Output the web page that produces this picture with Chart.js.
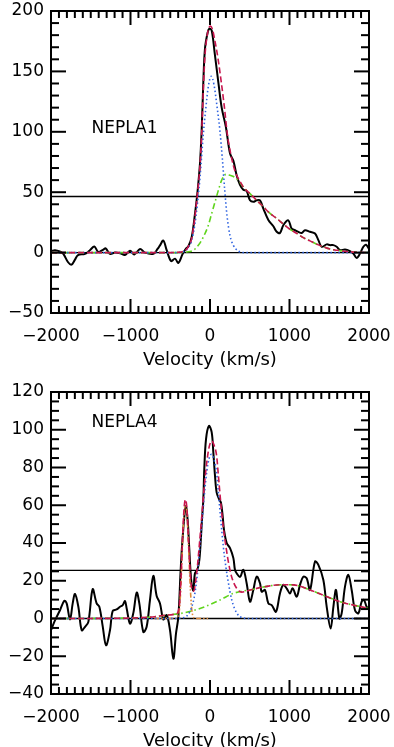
<!DOCTYPE html>
<html>
<head>
<meta charset="utf-8">
<script src="https://cdn.jsdelivr.net/npm/chart.js@4"></script>
<style>
  html, body { margin: 0; padding: 0; background: #fff; overflow: hidden; width: 394px; height: 747px; }
  canvas { position: absolute; left: 0; }
  #topChart { top: 0; }
  #bottomChart { top: 373px; }
</style>
</head>
<body>
<canvas id="topChart" width="394" height="373"></canvas>
<canvas id="bottomChart" width="394" height="381"></canvas>
<script>
// shared axis ticks
const velTicks = [-2000, -1000, 0, 1000, 2000];
const topYTicks = [-50, 0, 50, 100, 150, 200];
const bottomYTicks = [-40, -20, 0, 20, 40, 60, 80, 100, 120];

// NEPLA1 (top panel)
const n1SpecVel = [-2000, -1990, -1950, -1890, -1845, -1785, -1742, -1700, -1660, -1572, -1510, -1455, -1405, -1342, -1313, -1258, -1195, -1130, -1070, -1006, -952, -880, -818, -713, -660, -629, -587, -545, -490, -440, -398, -343, -300, -273, -230, -189, -159, -126, -105, -84, -63, -30, -8, 21, 63, 105, 147, 200, 252, 294, 335, 377, 419, 461, 503, 545, 587, 629, 671, 734, 797, 839, 880, 922, 985, 1027, 1069, 1111, 1153, 1195, 1258, 1321, 1363, 1405, 1468, 1510, 1552, 1594, 1636, 1698, 1761, 1803, 1845, 1887, 1929, 1962, 2000];
const n1SpecFlux = [1, 1.4, 2, 1, -1, -8, -10, -6, -2, -1, 2, 5, 0.5, 2.5, 3.5, -1, 0, -0.5, -2, 1.5, -1.5, 3, 0, -1, 3, 6, 10, 2, -7, -5, -8.5, -1, 3.5, 5, 13, 32, 49, 74, 101, 141, 169, 182, 185.5, 184, 163, 141, 120, 104, 82, 76, 64, 56, 52, 51, 43.3, 42, 43.3, 43.3, 36.4, 27, 21.8, 17.2, 16.2, 22.6, 26.7, 19.8, 18.5, 17.2, 16.3, 18.5, 17.2, 15.8, 10.3, 4.8, 6.8, 6.2, 6.2, 4.8, 2, 2.6, 1.2, -0.8, -4.5, -0.8, 4.8, 6.5, 3];

const n1TotalVel = [-2000, -1000, -500, -400, -340, -300, -273, -230, -189, -159, -126, -105, -84, -63, -40, -15, 8, 30, 60, 100, 140, 180, 220, 260, 294, 335, 377, 419, 503, 587, 671, 755, 839, 922, 1006, 1090, 1174, 1258, 1342, 1426, 1510, 1594, 1719, 1850, 2000];
const n1TotalFlux = [0, 0, 0, 0.3, 1, 2.5, 5, 12, 30, 48, 72, 98, 135, 163, 178, 186, 187.5, 185, 176, 161, 142, 121, 97, 82, 72, 64, 59, 54.3, 48.8, 43.3, 37.9, 32.4, 28.3, 23.7, 19.3, 16, 12.4, 9.7, 7, 4.8, 2.9, 2, 0.9, 0.3, 0];

const n1NarrowVel = [-2000, -420, -340, -273, -230, -189, -159, -126, -84, -55, -20, 15, 50, 92, 126, 155, 185, 215, 252, 294, 356, 420, 2000];
const n1NarrowFlux = [0, 0, 0.5, 4, 10, 24, 40, 62, 98, 118, 138, 146, 139, 119, 100, 78, 52, 30, 14, 6, 1.3, 0, 0];

const n1BroadVel = [-2000, -400, -294, -210, -147, -84, -21, 21, 63, 105, 147, 201, 252, 294, 335, 377, 419, 503, 587, 671, 755, 839, 922, 1006, 1090, 1174, 1258, 1342, 1426, 1510, 1594, 1719, 1850, 2000];
const n1BroadFlux = [0, 0, 0.5, 1.9, 6, 12.9, 22.6, 32.3, 41.9, 51.5, 60, 64.8, 64, 63, 61, 58, 54.3, 48.8, 43.3, 37.9, 32.4, 28.3, 23.7, 19.3, 16, 12.4, 9.7, 7, 4.8, 2.9, 2, 0.9, 0.3, 0];

const n1Level = 46.5;

// NEPLA4 (bottom panel)
const n4SpecVel = [-2000, -1950, -1887, -1832, -1803, -1761, -1727, -1698, -1656, -1614, -1572, -1530, -1476, -1426, -1392, -1350, -1308, -1258, -1224, -1174, -1132, -1098, -1069, -1048, -1006, -964, -922, -889, -839, -797, -755, -713, -671, -629, -587, -545, -503, -461, -428, -398, -369, -343, -305, -281, -262, -245, -230, -210, -189, -159, -134, -113, -101, -84, -72, -50, -13, 21, 42, 63, 84, 117, 138, 160, 176, 210, 252, 294, 314, 335, 377, 419, 461, 503, 545, 587, 629, 650, 692, 734, 776, 830, 880, 922, 964, 1006, 1040, 1090, 1132, 1174, 1216, 1258, 1321, 1363, 1426, 1468, 1518, 1552, 1585, 1627, 1656, 1698, 1740, 1782, 1824, 1866, 1908, 1937, 1971, 2000];
const n4SpecFlux = [-6.2, -1, 4.4, 9.4, 8, -0.5, 8, 13, 6.2, -6.2, -4.4, -1.8, 15.5, 8, 6.2, -4, -14.2, -6.2, 4, 4.8, 6.2, 7.1, 9.2, 5.3, -2.7, 3, 13.7, 8, -7.1, -4.4, 9.8, 22.6, 11.9, 8, -0.5, 1.8, -6.2, -21.3, -8, 1, 25.8, 43.5, 59.5, 52, 38, 25, 18, 15, 24, 25.8, 31, 43.5, 52.4, 63, 79, 95, 102, 98.7, 88, 75.5, 66.7, 63, 61.3, 54, 47, 40, 37.3, 32, 25.8, 24, 22, 25.8, 18.7, 8.9, 15.1, 22.2, 18.7, 14.2, 15.1, 8, 7.1, 3.6, 13.3, 17.8, 16, 13.3, 16, 11.6, 17.8, 22.2, 21.3, 15.1, 30.2, 28.4, 20.4, 6.2, -5.3, 6.2, 15.1, 0, 2.7, 16.9, 23.1, 15.1, 4.4, 2.7, 8.9, 9.8, 6.2, 5];

const n4TotalVel = [-2000, -1200, -900, -700, -545, -430, -390, -365, -345, -325, -308, -290, -270, -250, -230, -205, -180, -160, -130, -100, -70, -40, -10, 20, 50, 84, 105, 134, 168, 201, 231, 273, 335, 400, 500, 545, 750, 922, 1050, 1258, 1468, 1636, 1803, 2000];
const n4TotalFlux = [0, 0.1, 0.4, 0.9, 1.8, 2.4, 5.5, 21, 43, 59, 63, 58, 41, 25, 16, 14.5, 20, 27, 41, 56, 71, 83, 91, 94, 92, 86, 76, 62, 48, 38, 30, 22, 16, 14, 15, 15.5, 17.3, 17.9, 17.8, 15.1, 11.6, 8.9, 7.1, 5.3];

const n4NarrowVel = [-2000, -450, -350, -300, -250, -200, -160, -130, -100, -70, -40, -10, 20, 50, 84, 105, 134, 168, 201, 231, 273, 335, 400, 500, 2000];
const n4NarrowFlux = [0, 0, 0.3, 1, 4, 11, 23, 37, 51, 66, 78, 85, 87, 84, 77, 67, 53, 38, 27, 19, 10, 3, 0.5, 0, 0];

const n4BlueshiftVel = [-700, -430, -390, -365, -345, -325, -308, -290, -270, -250, -230, -205, -180, 0];
const n4BlueshiftFlux = [0, 0, 3, 18, 40, 56, 60, 55, 38, 18, 5, 0.5, 0, 0];

const n4BroadVel = [-2000, -1200, -900, -700, -545, -377, -126, 126, 294, 545, 750, 922, 1050, 1258, 1468, 1636, 1803, 2000];
const n4BroadFlux = [0, 0.1, 0.4, 0.9, 1.8, 2.6, 5.3, 9.8, 13.3, 15.5, 17.3, 17.9, 17.8, 15.1, 11.6, 8.9, 7.1, 5.3];

const n4Level = 25.5;

const FONT = "'DejaVu Sans', sans-serif";
Chart.defaults.font.family = FONT;
Chart.defaults.color = '#000';

const pts = (xs, ys) => xs.map((x, i) => ({ x: x, y: ys[i] }));
const flat = (v) => [{ x: velTicks[0], y: v }, { x: velTicks[velTicks.length - 1], y: v }];
const minusLabel = (v) => (v < 0 ? '\u2212' : '') + Math.abs(v);

// box with inward ticks on all four sides, plus the panel name
const idlFrame = {
  id: 'idlFrame',
  afterDraw(chart, args, o) {
    const ctx = chart.ctx;
    const a = chart.chartArea;
    const x = chart.scales.x, y = chart.scales.y;
    ctx.save();
    ctx.setLineDash([]);
    ctx.strokeStyle = '#000000';
    ctx.lineWidth = 2;
    ctx.strokeRect(a.left, a.top, a.right - a.left, a.bottom - a.top);
    const segs = [];
    for (let v = x.min; v <= x.max + 1e-6; v += o.xMinor) {
      const px = x.getPixelForValue(v);
      const len = Math.abs(v % o.xMajor) < 1e-6 ? 14 : 7;
      segs.push([px, a.bottom, px, a.bottom - len], [px, a.top, px, a.top + len]);
    }
    for (let v = y.min; v <= y.max + 1e-6; v += o.yMinor) {
      const py = y.getPixelForValue(v);
      const len = Math.abs(v % o.yMajor) < 1e-6 ? 15 : 8;
      segs.push([a.left, py, a.left + len, py], [a.right, py, a.right - len, py]);
    }
    segs.forEach(s => {
      ctx.beginPath();
      ctx.moveTo(s[0], s[1]);
      ctx.lineTo(s[2], s[3]);
      ctx.stroke();
    });
    ctx.font = '17px ' + FONT;
    ctx.fillStyle = '#000';
    ctx.textBaseline = 'middle';
    ctx.textAlign = 'left';
    ctx.fillText(o.label, x.getPixelForValue(o.labelX), y.getPixelForValue(o.labelY));
    ctx.restore();
  }
};

const fitLine = (label, data, color, dash) => ({
  label, data,
  borderColor: color,
  borderWidth: 1.6,
  borderDash: dash,
  pointRadius: 0,
  fill: false,
  cubicInterpolationMode: 'monotone'
});

function makePanel(id, cfg) {
  return new Chart(document.getElementById(id), {
    type: 'line',
    data: { datasets: cfg.datasets },
    options: {
      responsive: false,
      animation: false,
      events: [],
      layout: { padding: { top: cfg.padTop, right: 25, bottom: 0, left: 0 } },
      plugins: {
        legend: { display: false },
        tooltip: { enabled: false },
        idlFrame: cfg.frame
      },
      scales: {
        x: {
          type: 'linear',
          min: velTicks[0],
          max: velTicks[velTicks.length - 1],
          afterBuildTicks: (s) => { s.ticks = velTicks.map(v => ({ value: v })); },
          afterFit: (s) => { s.height = 60; s.paddingLeft = 0; s.paddingRight = 0; },
          grid: { display: false, drawTicks: false },
          border: { display: false },
          ticks: { callback: minusLabel, font: { size: 17 }, padding: 13, maxRotation: 0, autoSkip: false },
          title: { display: true, text: 'Velocity (km/s)', font: { size: 18 }, padding: { top: 0, bottom: 2 } }
        },
        y: {
          min: cfg.yTicks[0],
          max: cfg.yTicks[cfg.yTicks.length - 1],
          afterBuildTicks: (s) => { s.ticks = cfg.yTicks.map(v => ({ value: v })); },
          afterFit: (s) => { s.width = 51; s.paddingTop = 0; s.paddingBottom = 0; },
          grid: { display: false, drawTicks: false },
          border: { display: false },
          ticks: { callback: minusLabel, font: { size: 17 }, padding: 7, autoSkip: false }
        }
      }
    },
    plugins: [idlFrame]
  });
}

const RED = '#c8164e', BLUE = '#2f63e0', GREEN = '#5fd41c', ORANGE = '#dd8a3c';

makePanel('topChart', {
  padTop: 11,
  yTicks: topYTicks,
  frame: { xMajor: 1000, xMinor: 100, yMajor: 50, yMinor: 10, label: 'NEPLA1', labelX: -1490, labelY: 103 },
  datasets: [
    fitLine('total', pts(n1TotalVel, n1TotalFlux), RED, [6, 3]),
    fitLine('narrow', pts(n1NarrowVel, n1NarrowFlux), BLUE, [1.5, 2.5]),
    fitLine('broad', pts(n1BroadVel, n1BroadFlux), GREEN, [6, 3, 1.5, 3]),
    { label: 'spectrum', data: pts(n1SpecVel, n1SpecFlux), borderColor: '#000', borderWidth: 2, pointRadius: 0, tension: 0.35, fill: false },
    { label: 'zero', data: flat(0), borderColor: '#000', borderWidth: 1.4, pointRadius: 0 },
    { label: 'level', data: flat(n1Level), borderColor: '#000', borderWidth: 1.4, pointRadius: 0 }
  ]
});

makePanel('bottomChart', {
  padTop: 19,
  yTicks: bottomYTicks,
  frame: { xMajor: 1000, xMinor: 100, yMajor: 20, yMinor: 5, label: 'NEPLA4', labelX: -1490, labelY: 104 },
  datasets: [
    fitLine('total', pts(n4TotalVel, n4TotalFlux), RED, [6, 3]),
    fitLine('narrow', pts(n4NarrowVel, n4NarrowFlux), BLUE, [1.5, 2.5]),
    fitLine('blueshift', pts(n4BlueshiftVel, n4BlueshiftFlux), ORANGE, [5, 2, 1.5, 2, 1.5, 2]),
    fitLine('broad', pts(n4BroadVel, n4BroadFlux), GREEN, [6, 3, 1.5, 3]),
    { label: 'spectrum', data: pts(n4SpecVel, n4SpecFlux), borderColor: '#000', borderWidth: 2, pointRadius: 0, tension: 0.35, fill: false },
    { label: 'zero', data: flat(0), borderColor: '#000', borderWidth: 1.4, pointRadius: 0 },
    { label: 'level', data: flat(n4Level), borderColor: '#000', borderWidth: 1.4, pointRadius: 0 }
  ]
});
</script>
</body>
</html>
